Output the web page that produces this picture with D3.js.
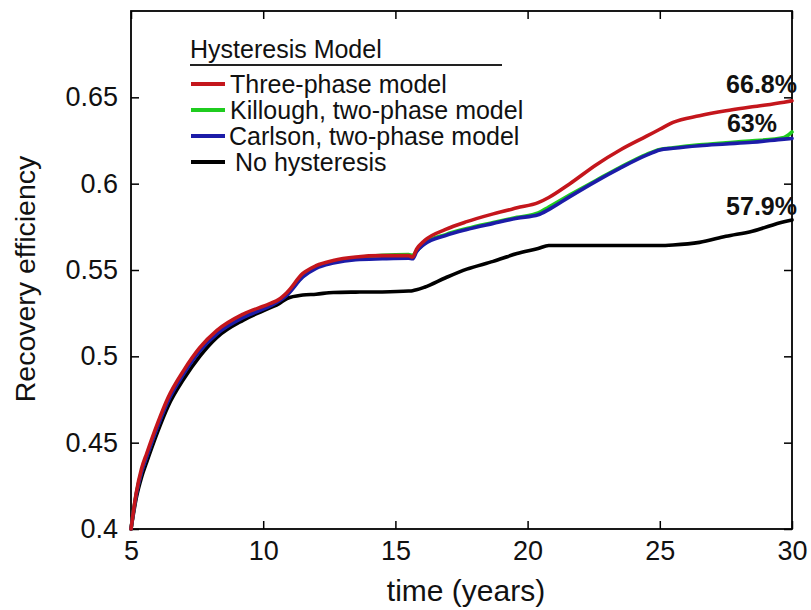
<!DOCTYPE html>
<html>
<head>
<meta charset="utf-8">
<script src="https://cdn.jsdelivr.net/npm/d3@7"></script>
<style>
  html, body { margin: 0; padding: 0; background: #fff; }
  svg { display: block; font-family: "Liberation Sans", Arial, Helvetica, sans-serif; }
</style>
</head>
<body>
<svg id="chart" width="811" height="610"></svg>
<script>
// Simulation time (years)
const years = [5, 5.2, 5.4, 5.6, 6.0, 6.4, 7.0, 7.6, 8.25, 9.25, 10.25, 10.6, 10.9, 11.5, 12.0, 12.65,
  13.5, 14.5, 15.5, 15.65, 15.8, 16.1, 16.9, 17.7, 18.7, 19.6, 20.4, 20.8, 21.6, 22.6, 23.5, 24.5,
  25.0, 25.5, 26.5, 27.5, 28.5, 29.7, 30];

// Recovery efficiency per hysteresis model
const threePhase = [0.400, 0.421, 0.435, 0.444, 0.461, 0.476, 0.492, 0.505, 0.515, 0.5245, 0.5305, 0.533,
  0.537, 0.548, 0.5525, 0.5555, 0.5575, 0.5583, 0.5583, 0.5575, 0.562, 0.567, 0.5735, 0.578, 0.5825,
  0.586, 0.589, 0.592, 0.600, 0.611, 0.6195, 0.6275, 0.6315, 0.6355, 0.6393, 0.6422, 0.6445, 0.6472, 0.648];
const killough = [0.400, 0.4205, 0.4335, 0.4425, 0.4595, 0.4745, 0.4905, 0.5035, 0.5135, 0.523, 0.5295,
  0.5325, 0.536, 0.5465, 0.5515, 0.5548, 0.557, 0.5585, 0.559, 0.5585, 0.561, 0.5655, 0.5705, 0.574,
  0.5775, 0.5805, 0.583, 0.5865, 0.5935, 0.602, 0.6095, 0.617, 0.6198, 0.6208, 0.6225, 0.6237, 0.6248,
  0.6268, 0.630];
const carlson = [0.400, 0.420, 0.433, 0.442, 0.459, 0.474, 0.490, 0.503, 0.513, 0.5225, 0.529, 0.532,
  0.5355, 0.546, 0.551, 0.554, 0.556, 0.5565, 0.5568, 0.5565, 0.5605, 0.565, 0.570, 0.5735, 0.577,
  0.580, 0.582, 0.585, 0.5925, 0.6015, 0.609, 0.6165, 0.6195, 0.6205, 0.622, 0.623, 0.624, 0.6258, 0.6262];
const noHysteresis = [0.400, 0.418, 0.430, 0.439, 0.456, 0.471, 0.487, 0.500, 0.511, 0.521, 0.528, 0.5305,
  0.5335, 0.5355, 0.536, 0.537, 0.5372, 0.5373, 0.5378, 0.538, 0.5385, 0.540, 0.5455, 0.5505, 0.555,
  0.5595, 0.5625, 0.5642, 0.5642, 0.5642, 0.5642, 0.5642, 0.5642, 0.5645, 0.566, 0.5695, 0.5725, 0.578, 0.579];

// Legend and annotation text
const legendTitle = "Hysteresis Model";
const seriesNames = ["Three-phase model", "Killough, two-phase model", "Carlson, two-phase model", "No hysteresis"];
const seriesColors = ["#c4161c", "#1fcc1f", "#1c1ca8", "#000000"];
const endLabels = ["66.8%", "63%", "57.9%"];
const endLabelValues = [0.668, 0.63, 0.579];

const xTicks = [5, 10, 15, 20, 25, 30];
const yTicks = [0.4, 0.45, 0.5, 0.55, 0.6, 0.65];

const svg = d3.select("#chart");
const plotLeft = 131, plotRight = 792, plotTop = 11, plotBottom = 529;
const x = d3.scaleLinear().domain([5, 30]).range([plotLeft, plotRight]);
const y = d3.scaleLinear().domain([0.4, 0.7]).range([plotBottom, plotTop]);

// Axes with inward ticks on all four sides
const tickLen = 8;
const fontFam = "Liberation Sans, Arial, sans-serif";
svg.append("g").attr("transform", `translate(0,${plotBottom})`)
  .call(d3.axisBottom(x).tickValues(xTicks).tickSizeInner(-tickLen).tickSizeOuter(0).tickPadding(12).tickFormat(d3.format("d")))
  .call(g => g.select(".domain").remove())
  .call(g => g.selectAll("text").attr("font-size", 27).attr("fill", "#111").attr("font-family", fontFam));
svg.append("g").attr("transform", `translate(0,${plotTop})`)
  .call(d3.axisTop(x).tickValues(xTicks).tickSizeInner(-tickLen).tickSizeOuter(0).tickFormat(""))
  .call(g => g.select(".domain").remove());
svg.append("g").attr("transform", `translate(${plotLeft},0)`)
  .call(d3.axisLeft(y).tickValues(yTicks).tickSizeInner(-tickLen).tickSizeOuter(0).tickPadding(13).tickFormat(d => String(d)))
  .call(g => g.select(".domain").remove())
  .call(g => g.selectAll("text").attr("font-size", 27).attr("fill", "#111").attr("font-family", fontFam));
svg.append("g").attr("transform", `translate(${plotRight},0)`)
  .call(d3.axisRight(y).tickValues(yTicks).tickSizeInner(-tickLen).tickSizeOuter(0).tickFormat(""))
  .call(g => g.select(".domain").remove());
svg.selectAll(".tick line").attr("stroke", "#000").attr("stroke-width", 1.5);

svg.append("rect")
  .attr("x", plotLeft).attr("y", plotTop)
  .attr("width", plotRight - plotLeft).attr("height", plotBottom - plotTop)
  .attr("fill", "none").attr("stroke", "#000").attr("stroke-width", 1.8);

// Axis titles
svg.append("text")
  .attr("x", 466).attr("y", 601)
  .attr("text-anchor", "middle").attr("font-size", 30).attr("fill", "#111")
  .text("time (years)");
svg.append("text")
  .attr("transform", "translate(35,279) rotate(-90)")
  .attr("text-anchor", "middle").attr("font-size", 28.5).attr("fill", "#111")
  .text("Recovery efficiency");

// Curves
const seriesValues = [threePhase, killough, carlson, noHysteresis];
const line = d3.line().x(d => x(d[0])).y(d => y(d[1])).curve(d3.curveMonotoneX);
const drawOrder = [3, 1, 2, 0];
const plot = svg.append("g");
drawOrder.forEach(i => {
  plot.append("path")
    .datum(years.map((t, k) => [t, seriesValues[i][k]]))
    .attr("fill", "none")
    .attr("stroke", seriesColors[i])
    .attr("stroke-width", 3.6)
    .attr("stroke-linejoin", "round")
    .attr("stroke-linecap", "round")
    .attr("d", line);
});

// Final-value annotations
const labelX = [797, 777, 797];
const labelY = [93, 132, 215];
endLabels.forEach((txt, i) => {
  svg.append("text")
    .attr("x", labelX[i]).attr("y", labelY[i])
    .attr("text-anchor", "end")
    .attr("font-size", 25).attr("font-weight", "bold").attr("fill", "#111")
    .attr("data-value", endLabelValues[i])
    .text(txt);
});

// Legend
const legend = svg.append("g");
legend.append("text")
  .attr("x", 190).attr("y", 58)
  .attr("font-size", 25).attr("fill", "#111")
  .text(legendTitle);
legend.append("line")
  .attr("x1", 190).attr("x2", 502).attr("y1", 65).attr("y2", 65)
  .attr("stroke", "#222").attr("stroke-width", 2);
const rowY = [84, 110, 136, 162];
const textX = [230, 230, 229, 235];
seriesNames.forEach((name, i) => {
  legend.append("line")
    .attr("x1", 191).attr("x2", 225).attr("y1", rowY[i]).attr("y2", rowY[i])
    .attr("stroke", seriesColors[i]).attr("stroke-width", 4);
  legend.append("text")
    .attr("x", textX[i]).attr("y", rowY[i] + 9)
    .attr("font-size", 25).attr("fill", "#111")
    .text(name);
});
</script>
</body>
</html>
